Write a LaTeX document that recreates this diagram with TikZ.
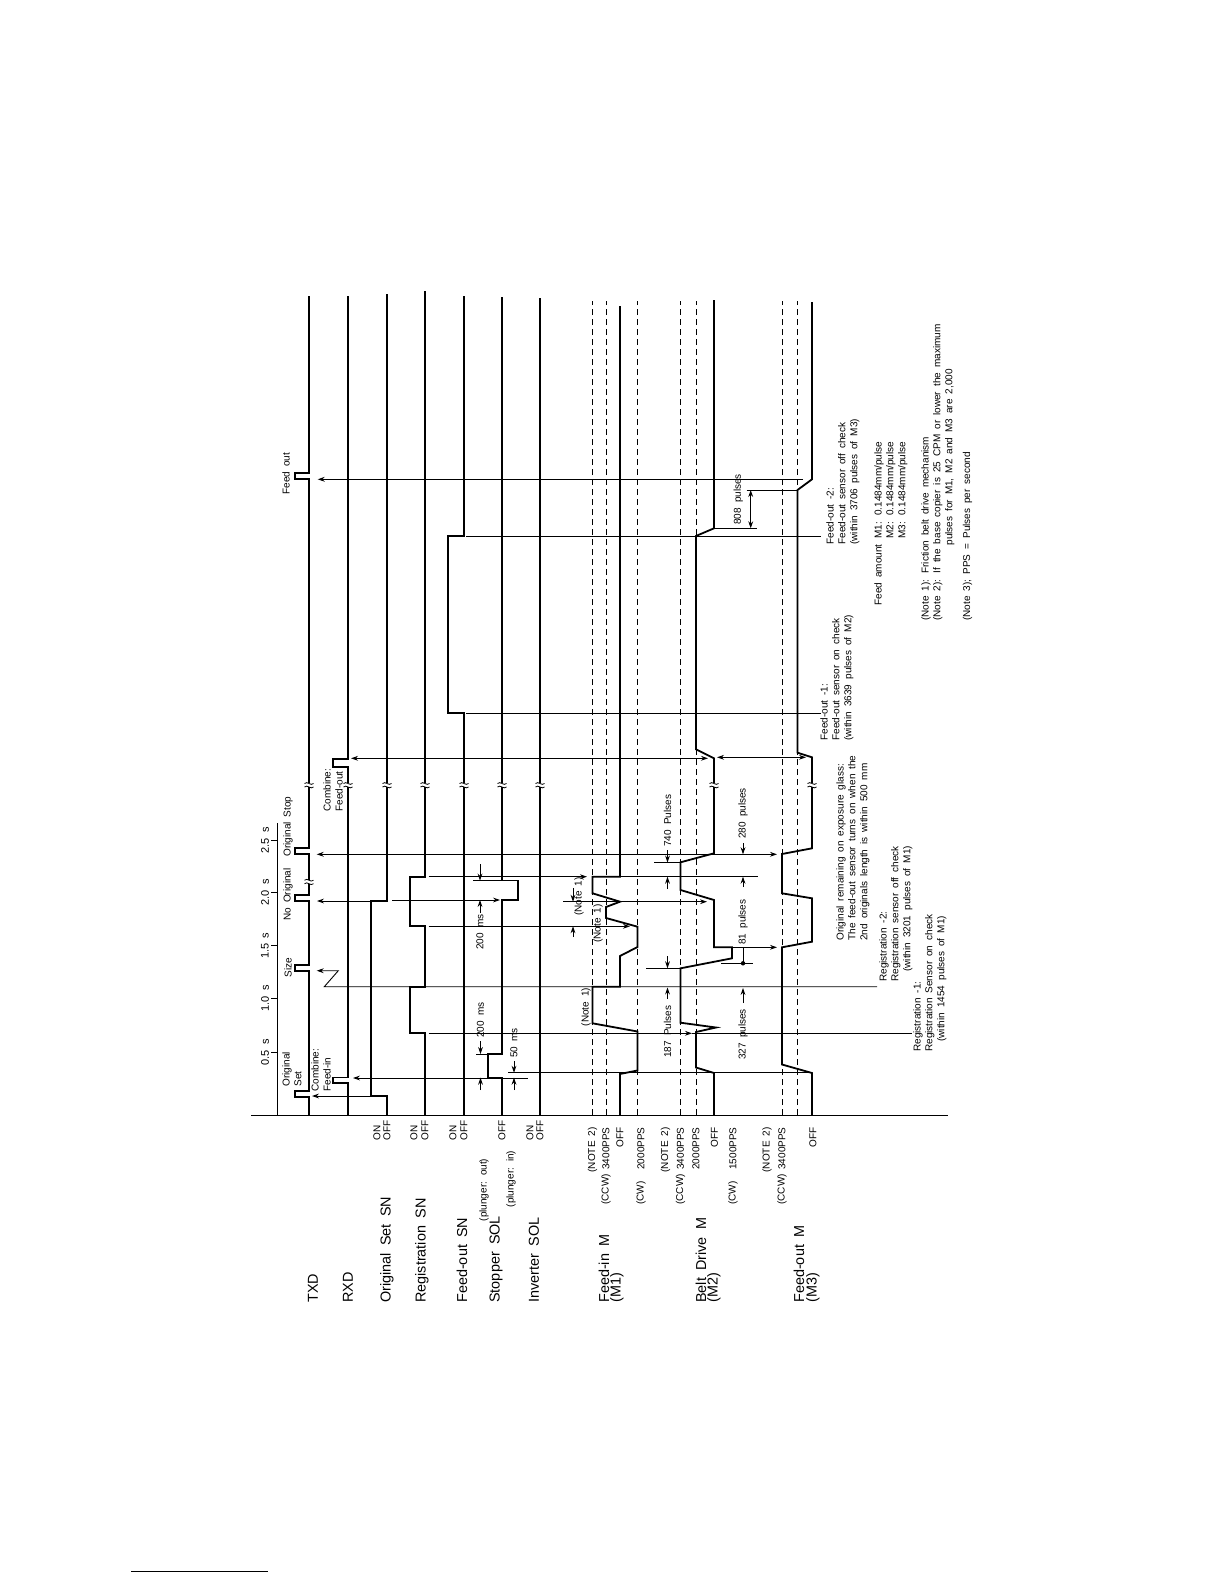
\documentclass[tikz,border=0pt]{standalone}
\usepackage{fontspec}
\setmainfont{Liberation Sans}[WordSpace=1.8]
\usetikzlibrary{arrows.meta}
\newcommand\brkmark[2]{%
  \fill[white] (#1-4.5,#2-2) rectangle (#1+4.5,#2+2);
  \draw[line width=0.4pt] (#1-4.5,#2-1.5) .. controls (#1-1.5,#2-4.5) and (#1+1.5,#2+1.5) .. (#1+4.5,#2-1.5);
  \draw[line width=0.4pt] (#1-4.5,#2+2) .. controls (#1-1.5,#2-1) and (#1+1.5,#2+5) .. (#1+4.5,#2+2);}
\begin{document}
\begin{tikzpicture}[x=0.5pt,y=-0.5pt,
  sig/.style={line width=0.9pt, line join=miter},
  dsh/.style={line width=0.45pt, dash pattern=on 3pt off 2pt},
  thn/.style={line width=0.45pt},
  tip/.style={-{Stealth[length=3.5pt,width=2.4pt]}},
  dtip/.style={{Stealth[length=3.5pt,width=2.4pt]}-{Stealth[length=3.5pt,width=2.4pt]}},
  mlab/.style={rotate=90, inner sep=0pt, font=\fontsize{7.2}{8.6}\selectfont},
  slab/.style={rotate=90, inner sep=0pt, font=\fontsize{5}{6}\selectfont},
  tlab/.style={rotate=90, inner sep=0pt, font=\fontsize{5.5}{6.5}\selectfont},
  blk/.style={rotate=90, inner sep=0pt, anchor=north west, align=left, font=\fontsize{5}{5.9}\selectfont}]
\useasboundingbox (0,0) rectangle (1224,1584);
\fill[white] (0,0) rectangle (1224,1584);

% frame
\draw[thn] (251,1115) -- (948,1115);
\draw[thn] (277.5,1115) -- (277.5,823);
\foreach \yy/\tt [count=\i] in {1052.3/0.5 s,998.3/1.0 s,945.7/1.5 s,892.3/2.0 s,840.3/2.5 s}{
  \draw[thn] (271,\yy) -- (277.5,\yy);
  \node[tlab] (t\i) at (265,\yy) {\tt};}

% signal names
\node[mlab,anchor=west] (nTXD) at (313,1303) {TXD};
\node[mlab,anchor=west] (nRXD) at (348,1303) {RXD};
\node[mlab,anchor=west] (nOS) at (387,1303) {Original Set SN};
\node[mlab,anchor=west] (nRS) at (422,1303) {Registration SN};
\node[mlab,anchor=west] (nFS) at (462,1303) {Feed-out SN};
\node[mlab,anchor=west] (nST) at (496,1303) {Stopper SOL};
\node[mlab,anchor=west] (nIV) at (534,1303) {Inverter SOL};
\node[mlab,anchor=west] (nM1a) at (604,1303) {Feed-in M};
\node[mlab,anchor=west] (nM1b) at (617,1303) {(M1)};
\node[mlab,anchor=west] (nM2a) at (701,1303) {Belt Drive M};
\node[mlab,anchor=west] (nM2b) at (714,1303) {(M2)};
\node[mlab,anchor=west] (nM3a) at (799,1303) {Feed-out M};
\node[mlab,anchor=west] (nM3b) at (813,1303) {(M3)};

% level labels
\foreach \xa/\xb [count=\i] in {377/387,414/425,453/464,530/540}{
  \node[slab,anchor=west] (on\i) at (\xa,1141) {ON};
  \node[slab,anchor=west] (off\i) at (\xb,1141) {OFF};}
\node[slab] (pout) at (484,1190) {(plunger: out)};
\node[slab,anchor=west] (soff) at (502,1141) {OFF};
\node[slab] (pin) at (511,1179) {(plunger: in)};
\node[slab,anchor=east] (a1) at (592.5,1127) {(NOTE 2)};
\node[slab,anchor=east] (a2) at (606,1127) {3400PPS};
\node[slab,anchor=east] (a3) at (620,1127) {OFF};
\node[slab,anchor=east] (a4) at (641,1127) {2000PPS};
\node[slab,anchor=east] (b1) at (665.5,1127) {(NOTE 2)};
\node[slab,anchor=east] (b2) at (680.5,1127) {3400PPS};
\node[slab,anchor=east] (b3) at (696,1127) {2000PPS};
\node[slab,anchor=east] (b4) at (714.5,1127) {OFF};
\node[slab,anchor=east] (b5) at (733,1127) {1500PPS};
\node[slab,anchor=east] (c1) at (767,1127) {(NOTE 2)};
\node[slab,anchor=east] (c2) at (782,1127) {3400PPS};
\node[slab,anchor=east] (c3) at (813,1127) {OFF};
\node[slab,anchor=west] (d1) at (606,1205) {(CCW)};
\node[slab,anchor=west] (d2) at (641,1205) {(CW)};
\node[slab,anchor=west] (d3) at (680.5,1205) {(CCW)};
\node[slab,anchor=west] (d4) at (733,1205) {(CW)};
\node[slab,anchor=west] (d5) at (782,1205) {(CCW)};

% dashed reference levels
\foreach \xx in {592.5,606,637.5,680.5,696,782,797.5}{
  \draw[dsh] (\xx,1115) -- (\xx,301);}

% TXD
\draw[sig] (309,1115) -- (309,1097) -- (295,1097) -- (295,1091) -- (309,1091)
  -- (309,971) -- (295,971) -- (295,965) -- (309,965)
  -- (309,901) -- (295,901) -- (295,895) -- (309,895)
  -- (309,854) -- (295,854) -- (295,848) -- (309,848)
  -- (309,479) -- (295,479) -- (295,473) -- (309,473) -- (309,296);
% RXD
\draw[sig] (348,1115) -- (348,1083) -- (333,1083) -- (333,1077.5) -- (348,1077.5)
  -- (348,767) -- (333,767) -- (333,759) -- (348,759) -- (348,296);
% Original set SN
\draw[sig] (387,1115) -- (387,1096) -- (371,1096) -- (371,901) -- (387,901) -- (387,294);
% Registration SN
\draw[sig] (425,1115) -- (425,1033.3) -- (410,1033.3) -- (410,986.7) -- (425,986.7)
  -- (425,926.3) -- (410,926.3) -- (410,876.7) -- (425,876.7) -- (425,291);
% Feed-out SN
\draw[sig] (464,1115) -- (464,713.3) -- (448,713.3) -- (448,536) -- (464,536) -- (464,296);
% Stopper SOL
\draw[sig] (502,1115) -- (502,1077.7) -- (488,1077.7) -- (488,1054) -- (502,1054)
  -- (502,900) -- (518,900) -- (518,880.5) -- (502,880.5) -- (502,297);
% Inverter SOL
\draw[sig] (540,1115) -- (540,298);
% Feed-in M
\draw[sig] (620,1115) -- (620,1074) -- (637.5,1070.5) -- (637.5,1031.5) -- (592.5,1023.3)
  -- (592.5,986.7) -- (620,986.7) -- (620,956) -- (637.5,947) -- (637.5,926.7)
  -- (606,918) -- (606,907) -- (620,901.7) -- (592.5,893.3) -- (592.5,876.7)
  -- (620,876.7) -- (620,306);
% Belt drive M
\draw[sig] (714,1115) -- (714,1073) -- (696,1067.5) -- (696,1032) -- (716,1027.5)
  -- (680.5,1022.7) -- (680.5,968.3) -- (732,958.3) -- (732,947.3) -- (714,947.3)
  -- (714,900) -- (680.5,890) -- (680.5,862.3) -- (714,853.3) -- (714,758.3)
  -- (696,749.3) -- (696,536) -- (714,528.3) -- (714,300);
% Feed-out M
\draw[sig] (812,1115) -- (812,1073) -- (782,1064.5) -- (782,947.3) -- (812,941.7)
  -- (812,898.3) -- (782,893.3) -- (782,854) -- (812,848.3) -- (812,757.3)
  -- (797.5,752.7) -- (797.5,490) -- (812,479.3) -- (812,302);

% break marks
\foreach \xx in {309,348,387,425,464,502,540,714,812}{\brkmark{\xx}{785}}
\brkmark{309}{881.7}

% pulse labels
\node[slab,anchor=west] (pOS1) at (287,1087) {Original};
\node[slab,anchor=west] (pOS2) at (298,1087) {Set};
\node[slab,anchor=west] (pCF1) at (315,1092) {Combine:};
\node[slab,anchor=west] (pCF2) at (327,1092) {Feed-in};
\node[slab,anchor=west] (pSZ) at (288,978) {Size};
\node[slab,anchor=west] (pNO) at (288,921) {No Original};
\node[slab,anchor=west] (pOS) at (288,857) {Original Stop};
\node[slab,anchor=west] (pCO1) at (327,812) {Combine:};
\node[slab,anchor=west] (pCO2) at (339,812) {Feed-out};
\node[slab,anchor=west] (pFO) at (286,495) {Feed out};

% event arrows
\draw[thn,tip] (371,1096) -- (312,1096);
\draw[thn,tip] (502,1078) -- (353,1078);
\draw[thn] (502,1078) -- (528,1078);
\draw[thn] (508,1072.7) -- (812,1072.7);
\draw[thn,tip] (428.7,1033.3) -- (692,1033.3);
\draw[thn] (692,1033.3) -- (912,1033.3);
\draw[thn,tip] (877,986.7) -- (324.3,986.7) -- (338.3,970.7) -- (316.7,970.7);
\draw[thn,tip] (428.7,926.3) -- (630,926.3);
\draw[thn,tip] (371,901) -- (317,901);
\draw[thn,tip] (392,900) -- (500,900);
\draw[thn,tip] (563,901.7) -- (707,901.7);
\draw[thn,tip] (428.7,876.7) -- (587,876.7);
\draw[thn] (620,876.7) -- (758,876.7);
\draw[thn,dtip] (316.7,854.3) -- (777,854.3);
\draw[thn,tip] (714,947.3) -- (777,947.3);
\draw[thn,dtip] (351,758.3) -- (708,758.3);
\draw[thn,dtip] (717,757.3) -- (806,757.3);
\draw[thn,tip] (803,479.3) -- (317.7,479.3);
\draw[thn] (466,713.3) -- (821,713.3);
\draw[thn] (466,536) -- (821,536);

% dimensions
\draw[thn] (476,1054) -- (488,1054);
\draw[thn,tip] (480.5,1041) -- (480.5,1054);
\draw[thn,tip] (480.5,1090) -- (480.5,1077.7);
\node[slab,anchor=west] (m200a) at (480.5,1038) {200 ms};
\draw[thn,tip] (514,1061) -- (514,1072.7);
\draw[thn,tip] (514,1090) -- (514,1077.7);
\node[slab,anchor=west] (m50) at (514,1058) {50 ms};
\draw[thn] (473,880.5) -- (502,880.5);
\draw[thn,tip] (480,864) -- (480,880.5);
\draw[thn,tip] (480,913) -- (480,900);
\node[slab,anchor=west] (m200b) at (480,950) {200 ms};
\draw[thn,tip] (573,888) -- (573,901.7);
\draw[thn,tip] (573,937) -- (573,926.3);
\node[slab,anchor=west] (n1a) at (579,916) {(Note 1)};
\node[slab,anchor=west] (n1b) at (598,943) {(Note 1)};
\node[slab,anchor=west] (n1c) at (586,1026.7) {(Note 1)};
\draw[thn] (654,862.5) -- (680.5,862.5);
\draw[thn,tip] (667.5,850) -- (667.5,862.5);
\draw[thn,tip] (667.5,889) -- (667.5,876.7);
\node[slab,anchor=west] (p740) at (667.5,847) {740 Pulses};
\draw[thn,tip] (743,843) -- (743,854.3);
\draw[thn,tip] (743,887) -- (743,876.7);
\node[slab,anchor=west] (p280) at (743,839) {280 pulses};
\node[slab,anchor=west] (p81) at (743,945) {81 pulses};
\draw[thn] (743,947) -- (743,963.3);
\draw[thn] (721,963.3) -- (753,963.3);
\fill (743,963.3) circle (1.1pt);
\draw[thn,tip] (743,1003) -- (743,988);
\node[slab,anchor=west] (p327) at (743,1060) {327 pulses};
\draw[thn] (646,968.3) -- (680.5,968.3);
\draw[thn,tip] (667.5,956) -- (667.5,968.3);
\draw[thn,tip] (667.5,999) -- (667.5,987.5);
\node[slab,anchor=west] (p187) at (667.5,1058) {187 Pulses};
\draw[thn] (746.7,490) -- (797.5,490);
\draw[thn] (714,528.3) -- (756.7,528.3);
\draw[thn,dtip] (750.7,490) -- (750.7,528.3);
\node[slab,anchor=west] (p808) at (738.3,525) {808 pulses};

% note blocks
\node[blk] (tFO1) at (820,741) {Feed-out -1:\\Feed-out sensor on check\\(within 3639 pulses of M2)};
\node[blk] (tFO2) at (826,545) {Feed-out -2:\\Feed-out sensor off check\\(within 3706 pulses of M3)};
\node[blk] (tOR) at (836,941) {Original remaining on exposure glass:\\The feed-out sensor turns on when the\\2nd originals length is within 500 mm};
\node[blk] (tR2) at (879,982) {Registration -2:\\Registration sensor off check\\\hspace{5pt}(within 3201 pulses of M1)};
\node[blk] (tR1) at (913,1052) {Registration -1:\\Registration Sensor on check\\\hspace{5pt}(within 1454 pulses of M1)};
\node[blk] (tFA) at (873,606) {\begin{tabular}{@{}l@{\hspace{3pt}}l@{}}Feed amount & M1: 0.1484mm/pulse\\ & M2: 0.1484mm/pulse\\ & M3: 0.1484mm/pulse\end{tabular}};
\node[blk] (tNT) at (920,621) {\begin{tabular}{@{}l@{\hspace{3pt}}l@{}}(Note 1): & Friction belt drive mechanism\\ (Note 2): & If the base copier is 25 CPM or lower the maximum\\ & \hspace{14pt}pulses for M1, M2 and M3 are 2,000\\[3pt] \multicolumn{2}{@{}l@{}}{(Note 3); PPS = Pulses per second}\end{tabular}};

% footer rule
\draw[line width=0.4pt] (131,1571) -- (268,1571);
\end{tikzpicture}
\end{document}
